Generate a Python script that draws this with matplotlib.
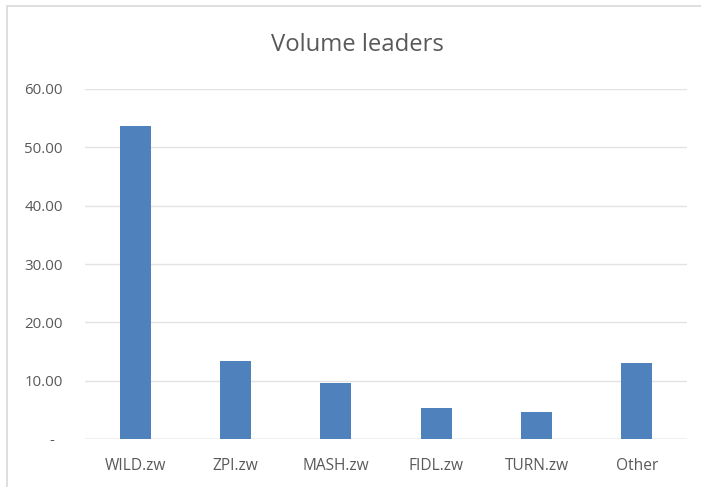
import matplotlib
matplotlib.use('Agg')
import matplotlib.pyplot as plt
from matplotlib.patches import Rectangle

categories = ['WILD.zw', 'ZPI.zw', 'MASH.zw', 'FIDL.zw', 'TURN.zw', 'Other']
volumes = [53.7, 13.3, 9.6, 5.3, 4.7, 13.1]
yticks = [0, 10, 20, 30, 40, 50, 60]
ytick_labels = ['-  ', '10.00', '20.00', '30.00', '40.00', '50.00', '60.00']

plt.rcParams['font.family'] = ['Open Sans', 'DejaVu Sans']

W, H = 701, 487
fig = plt.figure(figsize=(W / 100, H / 100), dpi=100)
fig.patch.set_facecolor('white')

# chart frame (light gray, open on the right)
fig.add_artist(Rectangle((7 / W, -0.1), 1.2, (H - 6) / H + 0.1,
                         transform=fig.transFigure, fill=False,
                         edgecolor='#d9d9d9', linewidth=1.2))

ax = fig.add_axes([85 / W, (H - 439) / H, (687 - 85) / W, (439 - 89) / H])
x = range(len(categories))
ax.bar(x, volumes, width=0.31, color='#4f81bd', zorder=3)
ax.set_xlim(-0.5, len(categories) - 0.5)
ax.set_ylim(0, 60)
ax.set_yticks(yticks)
ax.set_yticklabels(ytick_labels)
ax.set_xticks(list(x))
ax.set_xticklabels(categories)
ax.grid(axis='y', color='#e3e3e3', linewidth=1, zorder=0)
for s in ax.spines.values():
    s.set_visible(False)
ax.axhline(0, color='#d0d0d0', linewidth=1, zorder=2)
ax.tick_params(axis='both', length=0, colors='#595959')
ax.tick_params(axis='y', pad=16, labelsize=10.8)
ax.tick_params(axis='x', pad=14, labelsize=11.2)

fig.text(357 / W, 1 - 45 / H, 'Volume leaders', ha='center', va='center',
         fontsize=17.2, color='#595959')

fig.savefig('out.png', dpi=100)
